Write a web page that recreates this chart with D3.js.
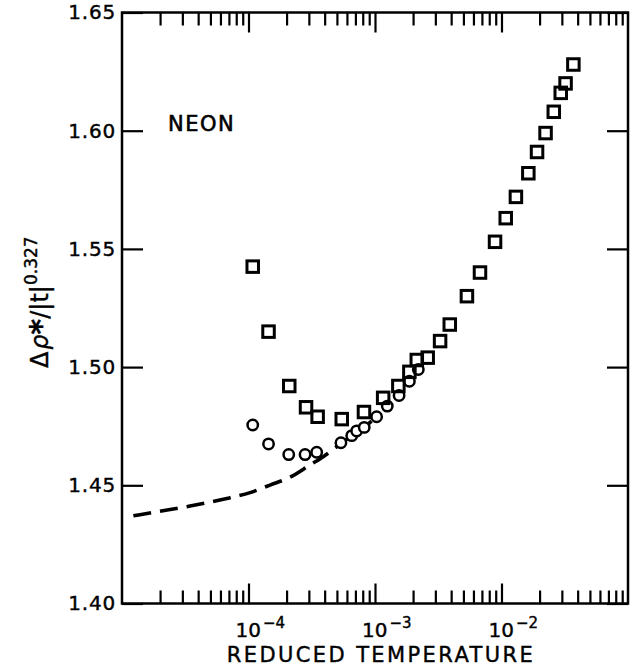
<!DOCTYPE html>
<html>
<head>
<meta charset="utf-8">
<script src="https://cdn.jsdelivr.net/npm/d3@7"></script>
<style>
  body { margin: 0; background: #fff; }
  svg text { font-family: "DejaVu Sans", sans-serif; fill: #000; }
</style>
</head>
<body>
<div id="chart"></div>
<script>
// ---- data ---------------------------------------------
const squareT = [1.08e-4, 1.44e-4, 2.10e-4, 2.85e-4, 3.52e-4, 5.46e-4, 8.18e-4, 1.16e-3,
  1.53e-3, 1.87e-3, 2.14e-3, 2.61e-3, 3.27e-3, 3.90e-3, 5.33e-3, 6.76e-3, 8.89e-3,
  1.08e-2, 1.30e-2, 1.63e-2, 1.91e-2, 2.23e-2, 2.59e-2, 2.94e-2, 3.21e-2, 3.70e-2];
const squareV = [1.5425, 1.515, 1.492, 1.483, 1.479, 1.478, 1.481, 1.487,
  1.492, 1.498, 1.503, 1.504, 1.511, 1.518, 1.530, 1.540, 1.553,
  1.563, 1.572, 1.582, 1.591, 1.599, 1.608, 1.616, 1.620, 1.628];

const circleT = [1.08e-4, 1.44e-4, 2.08e-4, 2.80e-4, 3.46e-4, 5.38e-4, 6.55e-4, 7.16e-4,
  8.22e-4, 1.03e-3, 1.25e-3, 1.55e-3, 1.87e-3, 2.20e-3];
const circleV = [1.4755, 1.4675, 1.463, 1.463, 1.464, 1.468, 1.471, 1.473,
  1.4745, 1.479, 1.4835, 1.488, 1.494, 1.499];

// dashed fit curve
const curveT = [1.23e-5, 1.88e-5, 3.45e-5, 6.32e-5, 1.03e-4, 1.48e-4, 2.13e-4, 3.06e-4,
  3.90e-4, 5.61e-4, 8.08e-4, 1.0e-3];
const curveV = [1.4371, 1.4388, 1.4412, 1.4441, 1.4469, 1.4501, 1.4534, 1.4586,
  1.4621, 1.4684, 1.4741, 1.4785];

const yTicks = [1.40, 1.45, 1.50, 1.55, 1.60, 1.65];
const xDecades = [1e-5, 1e-4, 1e-3, 1e-2, 1e-1];
const xLabels = [{ v: 1e-4, exp: "4" }, { v: 1e-3, exp: "3" }, { v: 1e-2, exp: "2" }];

// ---- layout -------------------------------------------
const WIDTH = 636;
const HEIGHT = 667;
const MARGINS = { top: 12.5, right: 8, bottom: 63.5, left: 122 };
const plotW = WIDTH - MARGINS.left - MARGINS.right;
const plotH = HEIGHT - MARGINS.top - MARGINS.bottom;

const svg = d3.select("#chart")
  .append("svg")
  .attr("width", WIDTH)
  .attr("height", HEIGHT)
  .attr("xmlns", "http://www.w3.org/2000/svg");

const g = svg.append("g")
  .attr("transform", `translate(${MARGINS.left},${MARGINS.top})`);

// ---- X -------------------------
const x = d3.scaleLog().domain([1e-5, 1e-1]).range([0, plotW]);
// ---- Y -------------------------
const y = d3.scaleLinear().domain([1.40, 1.65]).range([plotH, 0]);

// minor log ticks 2..9 in every decade
const minorT = [];
xDecades.slice(0, -1).forEach(d => {
  for (let k = 2; k <= 9; k++) minorT.push(d * k);
});
const majorT = xDecades.slice(1, -1);

function styleAxis(sel) {
  sel.select(".domain").remove();
  sel.selectAll(".tick line").attr("stroke", "#000").attr("stroke-width", 2.2);
}

// bottom ticks (inward)
g.append("g").attr("transform", `translate(0,${plotH})`)
  .call(d3.axisBottom(x).tickValues(minorT).tickSize(-13).tickFormat(""))
  .call(styleAxis);
g.append("g").attr("transform", `translate(0,${plotH})`)
  .call(d3.axisBottom(x).tickValues(majorT).tickSize(-20).tickFormat(""))
  .call(styleAxis);

// top ticks (inward)
g.append("g")
  .call(d3.axisTop(x).tickValues(minorT).tickSize(-13).tickFormat(""))
  .call(styleAxis);
g.append("g")
  .call(d3.axisTop(x).tickValues(majorT).tickSize(-20).tickFormat(""))
  .call(styleAxis);

// x labels: 10 with superscript exponent
g.append("g").attr("transform", `translate(0,${plotH})`)
  .selectAll("text")
  .data(xLabels)
  .join("text")
  .attr("x", d => x(d.v) - 13)
  .attr("y", 33)
  .attr("font-size", 20)
  .attr("stroke", "#000").attr("stroke-width", 0.4)
  .each(function (d) {
    const t = d3.select(this);
    t.append("tspan").text("10");
    t.append("tspan").attr("dy", -9).attr("dx", 2).attr("font-size", 15).text("\u2212" + d.exp);
  });

// left ticks + labels
g.append("g")
  .call(d3.axisLeft(y).tickValues(yTicks).tickSize(-21).tickPadding(6)
    .tickFormat(d3.format(".2f")))
  .call(styleAxis)
  .call(s => s.selectAll(".tick text")
    .attr("font-size", 20)
    .attr("letter-spacing", 0.8)
    .attr("stroke", "#000").attr("stroke-width", 0.4)
    .style("font-family", "DejaVu Sans, sans-serif"));

// right ticks
g.append("g").attr("transform", `translate(${plotW},0)`)
  .call(d3.axisRight(y).tickValues(yTicks).tickSize(-21).tickFormat(""))
  .call(styleAxis);

// frame
g.append("rect")
  .attr("x", 0).attr("y", 0)
  .attr("width", plotW).attr("height", plotH)
  .attr("fill", "none")
  .attr("stroke", "#000")
  .attr("stroke-width", 2.5);

// dashed curve
const curveData = curveT.map((t, i) => ({ t, v: curveV[i] }));
g.append("path")
  .datum(curveData)
  .attr("fill", "none")
  .attr("stroke", "#000")
  .attr("stroke-width", 3.6)
  .attr("stroke-dasharray", "18,9")
  .attr("d", d3.line().curve(d3.curveMonotoneX).x(d => x(d.t)).y(d => y(d.v)));

// circles
g.append("g")
  .selectAll("circle")
  .data(circleT.map((t, i) => ({ t, v: circleV[i] })))
  .join("circle")
  .attr("cx", d => x(d.t))
  .attr("cy", d => y(d.v))
  .attr("r", 5.2)
  .attr("fill", "#fff")
  .attr("stroke", "#000")
  .attr("stroke-width", 2.5);

// squares
const SQ = 11.5;
g.append("g")
  .selectAll("rect")
  .data(squareT.map((t, i) => ({ t, v: squareV[i] })))
  .join("rect")
  .attr("x", d => x(d.t) - SQ / 2)
  .attr("y", d => y(d.v) - SQ / 2)
  .attr("width", SQ)
  .attr("height", SQ)
  .attr("fill", "none")
  .attr("stroke", "#000")
  .attr("stroke-width", 3);

// NEON label
g.append("text")
  .attr("x", x(2.31e-5))
  .attr("y", y(1.6))
  .attr("font-size", 21)
  .attr("letter-spacing", 1.5)
  .attr("stroke", "#000").attr("stroke-width", 0.6)
  .text("NEON");

// x title
svg.append("text")
  .attr("x", MARGINS.left + plotW / 2 + 6)
  .attr("y", HEIGHT - 5)
  .attr("text-anchor", "middle")
  .attr("font-size", 21)
  .attr("letter-spacing", 2.4)
  .attr("stroke", "#000").attr("stroke-width", 0.4)
  .text("REDUCED TEMPERATURE");

// y title
const yt = svg.append("text")
  .attr("transform", `translate(48,${MARGINS.top + y(1.5) + 1}) rotate(-90)`)
  .attr("font-size", 24)
  .attr("stroke", "#000").attr("stroke-width", 0.4);
yt.append("tspan").text("\u0394");
yt.append("tspan").attr("font-style", "italic").attr("dx", 2).text("\u03c1");
yt.append("tspan").attr("font-size", 30).attr("font-weight", "bold").attr("dy", 3).text("*");
yt.append("tspan").attr("dy", -3).text("/|t|");
yt.append("tspan").attr("font-size", 17).attr("dy", -11).text("0.327");
</script>
</body>
</html>
